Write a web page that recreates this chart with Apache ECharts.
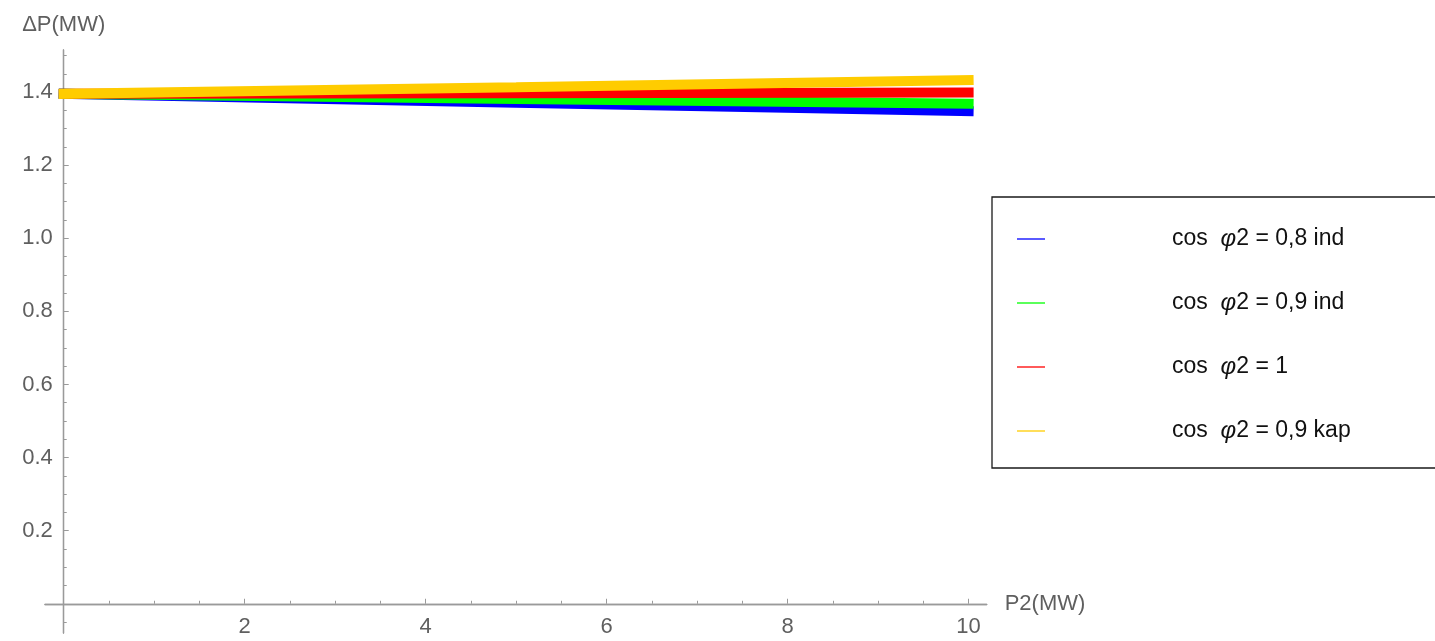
<!DOCTYPE html>
<html>
<head>
<meta charset="utf-8">
<script src="https://cdn.jsdelivr.net/npm/echarts@6/dist/echarts.min.js"></script>
<style>
html,body{margin:0;padding:0;background:#fff;}
#chart{width:1435px;height:641px;}
</style>
</head>
<body>
<div id="chart"></div>
<script>
// ---- data ----
const P2 = [0, 5, 10];
const cos08ind = [1.395, 1.371, 1.348];
const cos09ind = [1.395, 1.381, 1.368];
const cos1 = [1.395, 1.397, 1.399];
const cos09kap = [1.395, 1.413, 1.433];

const seriesNames = ['cos  φ2 = 0,8 ind', 'cos  φ2 = 0,9 ind', 'cos  φ2 = 1', 'cos  φ2 = 0,9 kap'];
const seriesColors = ['#0000ff', '#00ff00', '#ff0000', '#ffcc00'];

const xMajorTicks = [2, 4, 6, 8, 10];
const xMinorTicks = [0.5, 1, 1.5, 2.5, 3, 3.5, 4.5, 5, 5.5, 6.5, 7, 7.5, 8.5, 9, 9.5];
const yMajorTicks = [0.2, 0.4, 0.6, 0.8, 1.0, 1.2, 1.4];
const yMinorTicks = [-0.05, 0.05, 0.1, 0.15, 0.25, 0.3, 0.35, 0.45, 0.5, 0.55, 0.65, 0.7, 0.75,
  0.85, 0.9, 0.95, 1.05, 1.1, 1.15, 1.25, 1.3, 1.35, 1.45, 1.5];

const allSeries = [cos08ind, cos09ind, cos1, cos09kap];

const FONT = '"Liberation Sans", Arial, sans-serif';
const AXIS_COLOR = '#9a9a9a';
const LABEL_COLOR = '#5f5f5f';

const chart = echarts.init(document.getElementById('chart'), null, {renderer: 'canvas'});

const xMin = -0.207, xMax = 10.2, yMin = -0.08, yMax = 1.515;
// pixel geometry of plot
const G_LEFT = 45, G_TOP = 50, G_RIGHT = 986.7, G_BOTTOM = 633;
const X0 = G_LEFT + (0 - xMin) / (xMax - xMin) * (G_RIGHT - G_LEFT);
const Y0 = G_TOP + (yMax - 0) / (yMax - yMin) * (G_BOTTOM - G_TOP);

function xAxisBase(extra) {
  return Object.assign({
    type: 'value', min: xMin, max: xMax, position: 'bottom', gridIndex: 0,
    splitLine: {show: false},
    axisLabel: {show: false},
    axisLine: {show: true, onZero: true, onZeroAxisIndex: 0, lineStyle: {color: AXIS_COLOR, width: 1.3}}
  }, extra);
}
function yAxisBase(extra) {
  return Object.assign({
    type: 'value', min: yMin, max: yMax, position: 'left', gridIndex: 0,
    splitLine: {show: false},
    axisLabel: {show: false},
    axisLine: {show: true, onZero: true, onZeroAxisIndex: 0, lineStyle: {color: AXIS_COLOR, width: 1.3}}
  }, extra);
}

const option = {
  animation: false,
  backgroundColor: '#fff',
  grid: [
    {left: G_LEFT, top: G_TOP, width: G_RIGHT - G_LEFT, height: G_BOTTOM - G_TOP, containLabel: false, outerBoundsMode: 'none'},
    {left: X0, top: G_TOP, width: G_RIGHT - X0, height: Y0 - G_TOP, containLabel: false, outerBoundsMode: 'none'}
  ],
  xAxis: [
    xAxisBase({
      name: 'P2(MW)', nameLocation: 'end', nameGap: 18,
      nameTextStyle: {fontFamily: FONT, fontSize: 22, color: LABEL_COLOR},
      axisTick: {show: true, inside: true, length: 5, customValues: xMajorTicks, lineStyle: {color: AXIS_COLOR}}
    }),
    xAxisBase({
      axisTick: {show: true, inside: true, length: 3, customValues: xMinorTicks, lineStyle: {color: AXIS_COLOR}}
    }),
    {
      type: 'value', gridIndex: 1, min: 0, max: xMax, position: 'bottom',
      splitLine: {show: false}, axisLine: {show: false}, axisTick: {show: false},
      axisLabel: {show: true, customValues: xMajorTicks, margin: 12, fontFamily: FONT, fontSize: 22, color: LABEL_COLOR}
    }
  ],
  yAxis: [
    yAxisBase({
      name: 'ΔP(MW)', nameLocation: 'end', nameGap: 14,
      nameTextStyle: {fontFamily: FONT, fontSize: 22, color: LABEL_COLOR},
      axisTick: {show: true, inside: true, length: 5, customValues: yMajorTicks, lineStyle: {color: AXIS_COLOR}}
    }),
    yAxisBase({
      axisTick: {show: true, inside: true, length: 3, customValues: yMinorTicks, lineStyle: {color: AXIS_COLOR}}
    }),
    {
      type: 'value', gridIndex: 1, min: 0, max: yMax, position: 'left',
      splitLine: {show: false}, axisLine: {show: false}, axisTick: {show: false},
      axisLabel: {show: true, customValues: yMajorTicks, margin: 11, fontFamily: FONT, fontSize: 22, color: LABEL_COLOR,
        formatter: v => v.toFixed(1)}
    }
  ],
  legend: {
    show: true,
    orient: 'vertical',
    left: 992, top: 197,
    padding: [30, 200, 25, 25],
    itemGap: 40,
    itemWidth: 28, itemHeight: 1.3,
    icon: 'rect',
    borderColor: '#1a1a1a', borderWidth: 1.3,
    backgroundColor: '#fff',
    data: seriesNames,
    formatter: function (name) {
      const i = name.indexOf('φ');
      return '{a|' + name.slice(0, i) + '}{i|φ}{a|' + name.slice(i + 1) + '}';
    },
    textStyle: {
      fontFamily: FONT, fontSize: 23, color: '#111', lineHeight: 24,
      padding: [0, 0, 0, 122],
      rich: {
        a: {fontFamily: FONT, fontSize: 23, color: '#111', lineHeight: 24},
        i: {fontFamily: FONT, fontStyle: 'italic', fontSize: 24, color: '#111', lineHeight: 24}
      }
    }
  },
  series: allSeries.map((vals, k) => ({
    name: seriesNames[k],
    type: 'line',
    xAxisIndex: 0, yAxisIndex: 0,
    data: P2.map((x, i) => [x, vals[i]]),
    showSymbol: false, symbol: 'none',
    color: seriesColors[k],
    lineStyle: {color: seriesColors[k], width: 10, cap: 'square'},
    z: 2 + k
  }))
};
chart.setOption(option);
</script>
</body>
</html>
